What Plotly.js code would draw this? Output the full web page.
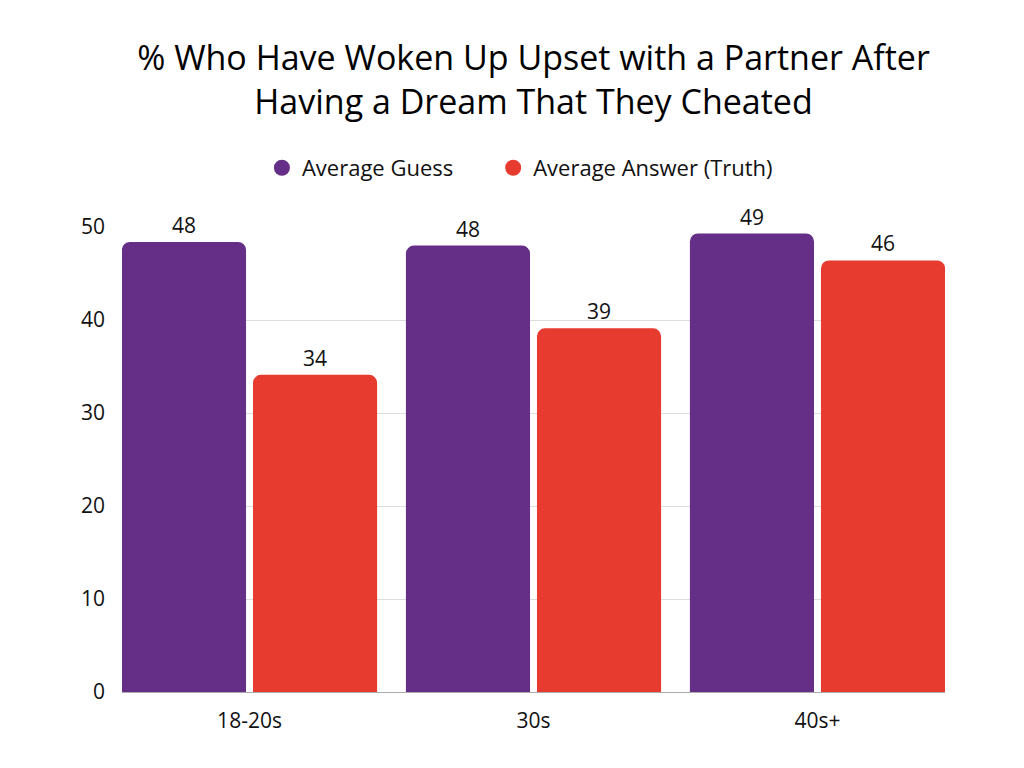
<!DOCTYPE html>
<html>
<head>
<meta charset="utf-8">
<script src="https://cdn.plot.ly/plotly-3.0.1.min.js"></script>
<style>html,body{margin:0;padding:0;background:#fff;}#chart{width:1024px;height:768px;}</style>
</head>
<body>
<div id="chart"></div>
<script>
const categories = ["18-20s", "30s", "40s+"];
const guessValues = [48.4, 48.0, 49.3];
const truthValues = [34.1, 39.1, 46.4];
const seriesNames = ["Average Guess", "Average Answer (Truth)"];
const colors = ["#652F88", "#E83B30"];
const yTicks = [0, 10, 20, 30, 40, 50];

const labelFont = {family: "Open Sans, sans-serif", size: 21, color: "#111"};
const legendFont = {family: "Open Sans, sans-serif", size: 22, color: "#111"};

function barTrace(name, vals, color) {
  return {
    type: "bar", name: name, x: categories, y: vals,
    marker: {color: color, cornerradius: 8},
    texttemplate: "%{y:.0f}", textposition: "outside",
    textfont: labelFont, cliponaxis: false, showlegend: false,
    hoverinfo: "x+y"
  };
}
function legendTrace(name, color, legendId) {
  return {
    type: "scatter", mode: "markers", name: name, x: [null], y: [null],
    marker: {color: color, size: 20, symbol: "circle"}, showlegend: true,
    legend: legendId
  };
}

const data = [
  barTrace(seriesNames[0], guessValues, colors[0]),
  barTrace(seriesNames[1], truthValues, colors[1]),
  legendTrace(seriesNames[0], colors[0], "legend"),
  legendTrace(seriesNames[1], colors[1], "legend2")
];

const layout = {
  width: 1024, height: 768,
  paper_bgcolor: "#fff", plot_bgcolor: "#fff",
  margin: {l: 122, r: 79, t: 227, b: 76},
  title: {
    text: "% Who Have Woken Up Upset with a Partner After<br>Having a Dream That They Cheated",
    font: {family: "Open Sans, sans-serif", size: 34, color: "#000"},
    x: 0.5, xref: "paper", y: 0.909, yref: "container", yanchor: "top"
  },
  barmode: "group", bargap: 0.077, bargroupgap: 0.053,
  showlegend: true,
  legend: {
    orientation: "h", x: 0.170, xanchor: "left", y: 1.127, yanchor: "middle",
    font: legendFont, itemwidth: 30
  },
  legend2: {
    orientation: "h", x: 0.451, xanchor: "left", y: 1.127, yanchor: "middle",
    font: legendFont, itemwidth: 30
  },
  xaxis: {
    type: "category", range: [-0.449, 2.449],
    showgrid: false, showline: true, linecolor: "#aaa", linewidth: 1,
    ticks: "", tickfont: labelFont, ticklabelstandoff: 10, fixedrange: true
  },
  yaxis: {
    range: [0, 50], tickvals: yTicks, showgrid: true, gridcolor: "#dddddd", gridwidth: 1,
    zeroline: false, showline: false, ticks: "", tickfont: labelFont,
    ticklabelstandoff: 16, fixedrange: true
  }
};

Plotly.newPlot("chart", data, layout, {displayModeBar: false, staticPlot: true});
</script>
</body>
</html>
